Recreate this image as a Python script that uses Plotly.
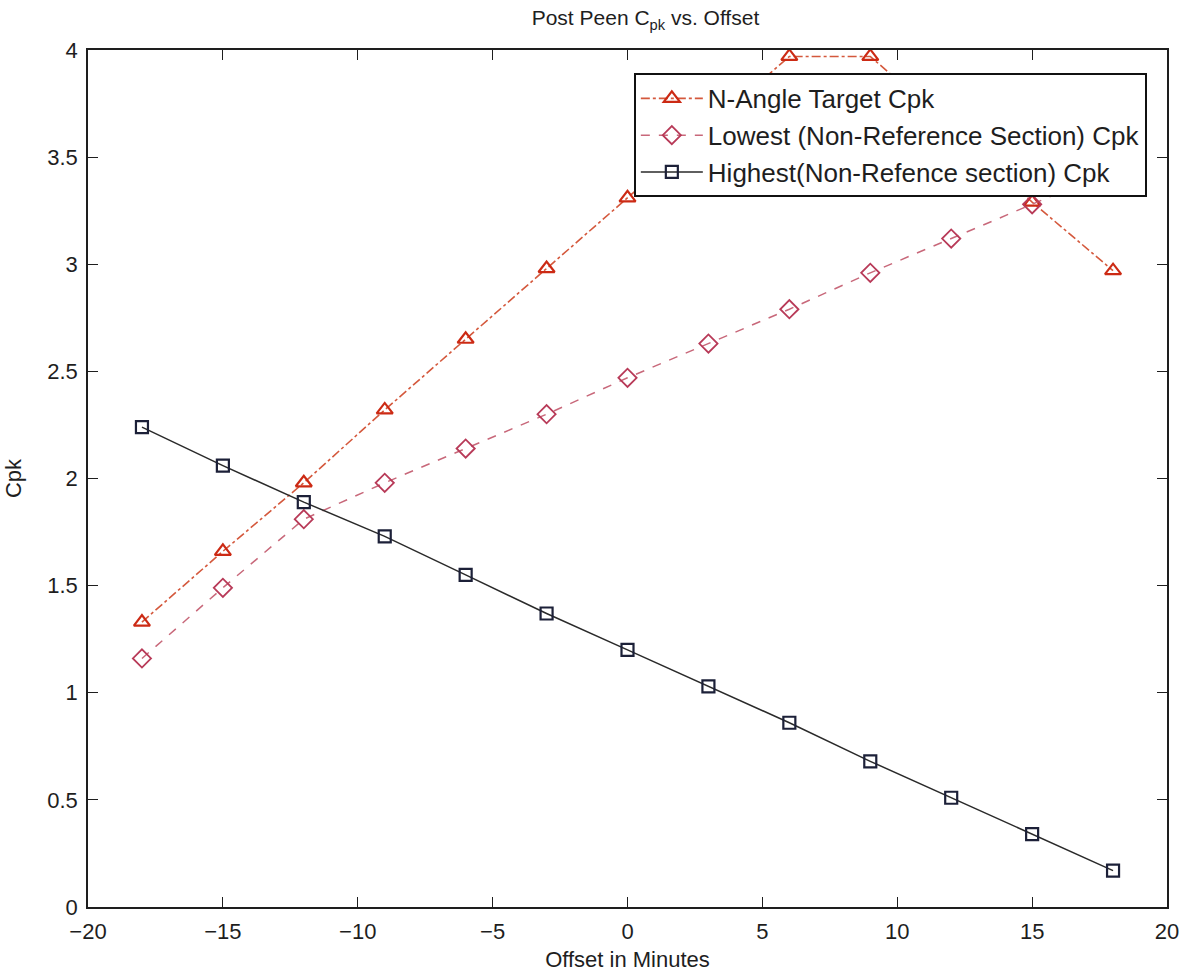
import plotly.graph_objects as go

offset = [-18, -15, -12, -9, -6, -3, 0, 3, 6, 9, 12, 15, 18]
n_angle = [1.33, 1.66, 1.98, 2.32, 2.65, 2.98, 3.31, 3.64, 3.97, 3.97, 3.64, 3.29, 2.97]
lowest = [1.16, 1.49, 1.81, 1.98, 2.14, 2.30, 2.47, 2.63, 2.79, 2.96, 3.12, 3.28, 3.44]
highest = [2.24, 2.06, 1.89, 1.73, 1.55, 1.37, 1.20, 1.03, 0.86, 0.68, 0.51, 0.34, 0.17]

names = ["N-Angle Target Cpk",
         "Lowest (Non-Reference Section) Cpk",
         "Highest(Non-Refence section) Cpk"]

FONT = "Liberation Sans, Arial, sans-serif"
INK = "#1e1e1e"

fig = go.Figure()
fig.add_trace(go.Scatter(
    x=offset, y=n_angle, name=names[0], mode="lines+markers", legendgroup="a",
    line=dict(color="#d4583c", width=1.6, dash="dashdot"),
    marker=dict(symbol="triangle-up-open", size=14, color="#cc2a14", line=dict(width=2.2)),
))
fig.add_trace(go.Scatter(
    x=offset, y=lowest, name=names[1], mode="lines+markers", legendgroup="b",
    line=dict(color="#c8687a", width=1.5, dash="dash"),
    marker=dict(symbol="diamond-open", size=14, color="#b83a58", line=dict(width=1.8)),
))
fig.add_trace(go.Scatter(
    x=offset, y=highest, name=names[2], mode="lines+markers", legendgroup="c",
    line=dict(color="#2a2a2a", width=1.5),
    marker=dict(symbol="square-open", size=12, color="#1c2038", line=dict(width=2.2)),
))

fig.update_layout(
    width=1180, height=974,
    margin=dict(l=88, r=13, t=50, b=67, autoexpand=False),
    paper_bgcolor="white", plot_bgcolor="white",
    font=dict(family=FONT, size=22, color=INK),
    title=dict(text="Post Peen C<sub>pk</sub> vs. Offset", x=0.547, xanchor="center",
               y=0.9815, yanchor="middle", font=dict(size=21, color=INK)),
    legend=dict(x=0.9815, xanchor="right", y=0.973, yanchor="top",
                bgcolor="white", bordercolor="#111", borderwidth=1.8,
                font=dict(size=26, color=INK), tracegroupgap=0,
                itemwidth=62),
    xaxis=dict(range=[-20, 20], tickvals=[-20, -15, -10, -5, 0, 5, 10, 15, 20],
               ticks="inside", ticklen=10, tickcolor=INK, showline=True, linecolor=INK,
               linewidth=1.6, mirror="ticks", showgrid=False, zeroline=False,
               automargin=False, ticklabelstandoff=4,
               title=dict(text="Offset in Minutes", standoff=8, font=dict(size=22))),
    yaxis=dict(range=[0, 4], tickvals=[0, 0.5, 1, 1.5, 2, 2.5, 3, 3.5, 4],
               ticktext=["0", "0.5", "1", "1.5", "2", "2.5", "3", "3.5", "4"],
               ticks="inside", ticklen=10, tickcolor=INK, showline=True, linecolor=INK,
               linewidth=1.6, mirror="ticks", showgrid=False, zeroline=False,
               automargin=False, ticklabelstandoff=4,
               title=dict(text="Cpk", standoff=20, font=dict(size=22))),
)

fig.write_html("out.html")
